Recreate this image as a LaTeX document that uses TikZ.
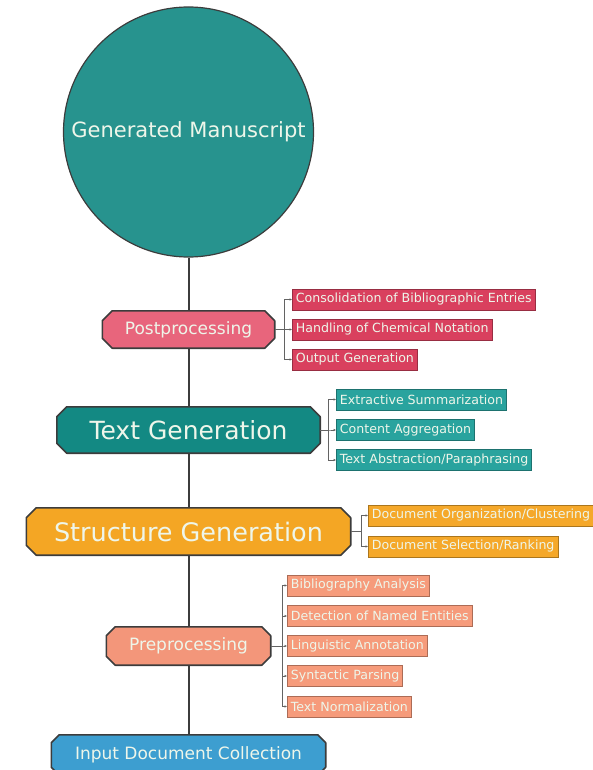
\documentclass[tikz,border=0pt]{standalone}
\usepackage{fontspec}
\setmainfont{DejaVu Sans}
\usetikzlibrary{arrows.meta,backgrounds}

\definecolor{cream}{HTML}{EEF6EA}
\definecolor{linegray}{HTML}{3C3C3C}
\definecolor{msteal}{HTML}{27938E}
\definecolor{tgfill}{HTML}{138983}
\definecolor{tgsub}{HTML}{29A39E}
\definecolor{postfill}{HTML}{E8657C}
\definecolor{postsub}{HTML}{D9405E}
\definecolor{sgfill}{HTML}{F4A624}
\definecolor{sgsub}{HTML}{F5A82A}
\definecolor{prefill}{HTML}{F3967A}
\definecolor{presub}{HTML}{F69B7B}
\definecolor{infill}{HTML}{3D9ED0}

\tikzset{
  hub/.style={circle, draw=linegray, line width=1.2pt, fill=msteal, text=cream,
    minimum size=250pt, inner sep=0pt, font=\fontsize{21}{25}\selectfont},
  stage/.style={rectangle, inner sep=0pt, text=cream},
  leaf/.style={rectangle, anchor=west, fill=#1, draw=#1!70!black, line width=0.8pt,
    text=cream, minimum height=21pt, inner xsep=3.5pt, inner ysep=0pt,
    font=\fontsize{12.6}{15}\selectfont},
  trunk/.style={draw=linegray, line width=2pt},
  branch/.style={draw=linegray!80, line width=0.8pt,
    -{Latex[length=2.5pt,width=2.5pt]}},
  octline/.style={draw=linegray, line width=1.6pt, line join=round},
}

% chamfered outline behind a stage node: name, chamfer size, fill colour
\newcommand\octo[3]{%
  \filldraw[octline, fill=#3]
    ([xshift=#2]#1.north west) -- ([xshift=-#2]#1.north east)
    -- ([yshift=-#2]#1.north east) -- ([yshift=#2]#1.south east)
    -- ([xshift=-#2]#1.south east) -- ([xshift=#2]#1.south west)
    -- ([yshift=#2]#1.south west) -- ([yshift=-#2]#1.north west) -- cycle;}

\begin{document}
\begin{tikzpicture}[x=1pt, y=-1pt]
\useasboundingbox (0,0) rectangle (593,770);
\clip (0,0) rectangle (593,770);

% main column
\node[hub] (ms) at (188.5,132) {Generated Manuscript};
\node[stage, minimum width=172pt, minimum height=37pt,
  font=\fontsize{17}{20}\selectfont] (post) at (188.5,329.5) {Postprocessing};
\node[stage, minimum width=263pt, minimum height=46pt,
  font=\fontsize{25}{30}\selectfont] (tg) at (188.5,430) {Text Generation};
\node[stage, minimum width=324pt, minimum height=47pt,
  font=\fontsize{25.5}{30}\selectfont] (sg) at (188.5,531.5) {Structure Generation};
\node[stage, minimum width=164pt, minimum height=38pt,
  font=\fontsize{17}{20}\selectfont] (pre) at (188.5,646) {Preprocessing};
\node[stage, minimum width=274pt, minimum height=40pt,
  font=\fontsize{17}{20}\selectfont] (in) at (188.5,755) {Input Document Collection};

% postprocessing tasks
\node[leaf=postsub] (p1) at (292,299.5) {Consolidation of Bibliographic Entries};
\node[leaf=postsub] (p2) at (292,329.5) {Handling of Chemical Notation};
\node[leaf=postsub] (p3) at (292,359.5) {Output Generation};

% text generation tasks
\node[leaf=tgsub] (t1) at (336,399.5) {Extractive Summarization};
\node[leaf=tgsub] (t2) at (336,430) {Content Aggregation};
\node[leaf=tgsub] (t3) at (336,460) {Text Abstraction/Paraphrasing};

% structure generation tasks
\node[leaf=sgsub] (s1) at (368,515.5) {Document Organization/Clustering};
\node[leaf=sgsub] (s2) at (368,546.5) {Document Selection/Ranking};

% preprocessing tasks
\node[leaf=presub] (r1) at (287,585.5) {Bibliography Analysis};
\node[leaf=presub] (r2) at (287,616) {Detection of Named Entities};
\node[leaf=presub] (r3) at (287,646) {Linguistic Annotation};
\node[leaf=presub] (r4) at (287,676) {Syntactic Parsing};
\node[leaf=presub] (r5) at (287,706.5) {Text Normalization};

\begin{pgfonlayer}{background}
  \octo{post}{10pt}{postfill}
  \octo{tg}{10pt}{tgfill}
  \octo{sg}{10pt}{sgfill}
  \octo{pre}{9pt}{prefill}
  \octo{in}{8pt}{infill}

  \draw[trunk] (ms.south) -- (post.north);
  \draw[trunk] (post.south) -- (tg.north);
  \draw[trunk] (tg.south) -- (sg.north);
  \draw[trunk] (sg.south) -- (pre.north);
  \draw[trunk] (pre.south) -- (in.north);
\end{pgfonlayer}

% task branches
\foreach \t in {p1,p2,p3} \draw[branch] (post.east) -- ++(10,0) |- (\t.west);
\foreach \t in {t1,t2,t3} \draw[branch] (tg.east) -- ++(8,0) |- (\t.west);
\foreach \t in {s1,s2} \draw[branch] (sg.east) -- ++(11,0) |- (\t.west);
\foreach \t in {r1,r2,r3,r4,r5} \draw[branch] (pre.east) -- ++(12,0) |- (\t.west);
\end{tikzpicture}
\end{document}
